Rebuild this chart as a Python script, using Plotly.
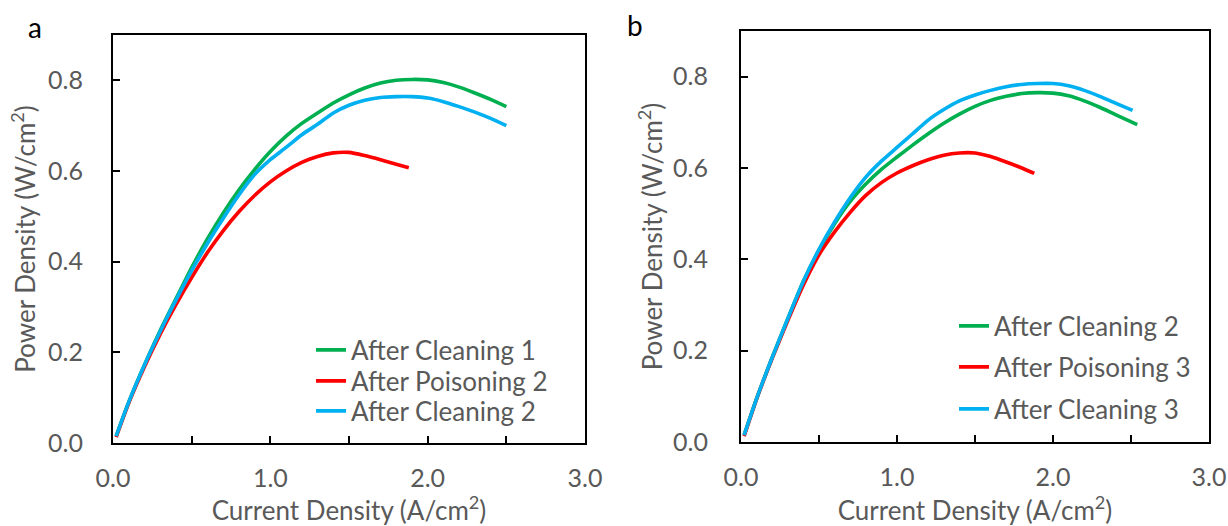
import plotly.graph_objects as go

# ---------------- data ----------------
# Panel a
a_x = [0.02, 0.1, 0.2, 0.3, 0.4, 0.5, 0.6, 0.7, 0.8, 0.9, 1.0, 1.1, 1.2, 1.3, 1.4,
       1.5, 1.6, 1.7, 1.8, 1.9, 2.0, 2.1, 2.2, 2.3, 2.4, 2.5]
a_clean1 = [0.015, 0.09, 0.172, 0.248, 0.318, 0.387, 0.45, 0.507, 0.558, 0.603, 0.643,
            0.677, 0.705, 0.728, 0.75, 0.768, 0.783, 0.794, 0.80, 0.802, 0.801, 0.795,
            0.785, 0.772, 0.758, 0.742]
a_clean2 = [0.015, 0.09, 0.172, 0.246, 0.315, 0.38, 0.44, 0.495, 0.547, 0.592, 0.625,
            0.652, 0.68, 0.703, 0.728, 0.745, 0.756, 0.762, 0.764, 0.764, 0.761, 0.753,
            0.742, 0.73, 0.716, 0.70]
a_pois_x = [0.02, 0.1, 0.2, 0.3, 0.4, 0.5, 0.6, 0.7, 0.8, 0.9, 1.0, 1.1, 1.2, 1.3, 1.4,
            1.5, 1.6, 1.7, 1.8, 1.88]
a_pois2 = [0.013, 0.088, 0.168, 0.24, 0.305, 0.365, 0.42, 0.468, 0.51, 0.546, 0.576,
           0.6, 0.619, 0.632, 0.64, 0.641, 0.634, 0.625, 0.615, 0.607]

# Panel b
b_x = [0.02, 0.1, 0.2, 0.3, 0.4, 0.5, 0.6, 0.7, 0.8, 0.9, 1.0, 1.1, 1.2, 1.3, 1.4,
       1.5, 1.6, 1.7, 1.8, 1.9, 2.0, 2.1, 2.2, 2.3, 2.4, 2.54]
b_clean2 = [0.015, 0.095, 0.185, 0.27, 0.352, 0.42, 0.478, 0.527, 0.565, 0.597, 0.624,
            0.65, 0.675, 0.698, 0.718, 0.735, 0.748, 0.757, 0.763, 0.765, 0.764, 0.758,
            0.747, 0.733, 0.717, 0.695]
b_pois_x = [0.02, 0.1, 0.2, 0.3, 0.4, 0.5, 0.6, 0.7, 0.8, 0.9, 1.0, 1.1, 1.2, 1.3, 1.4,
            1.5, 1.6, 1.7, 1.8, 1.88]
b_pois3 = [0.013, 0.094, 0.183, 0.266, 0.344, 0.41, 0.46, 0.503, 0.54, 0.568, 0.589,
           0.605, 0.618, 0.628, 0.633, 0.633, 0.625, 0.613, 0.60, 0.588]
b_clean_x = [0.02, 0.1, 0.2, 0.3, 0.4, 0.5, 0.6, 0.7, 0.8, 0.9, 1.0, 1.1, 1.2, 1.3, 1.4,
             1.5, 1.6, 1.7, 1.8, 1.9, 2.0, 2.1, 2.2, 2.3, 2.4, 2.51]
b_clean3 = [0.015, 0.095, 0.185, 0.27, 0.352, 0.422, 0.482, 0.535, 0.58, 0.615, 0.645,
            0.675, 0.705, 0.728, 0.747, 0.76, 0.77, 0.778, 0.783, 0.785, 0.785, 0.78,
            0.77, 0.757, 0.742, 0.726]

GREEN = "#00B050"
RED = "#FF0000"
BLUE = "#00B0F0"
GRAY = "#595959"
FONT = "Lato"
LW = 3.6
W, H = 1228, 526

fig = go.Figure()

def add(x, y, name, color, xa, ya, leg):
    fig.add_trace(go.Scatter(x=x, y=y, name=name, mode="lines", showlegend=True,
                             line=dict(color=color, width=LW, shape="spline", smoothing=0.6),
                             xaxis=xa, yaxis=ya, legend=leg))

add(a_x, a_clean1, "After Cleaning 1", GREEN, "x", "y", "legend")
add(a_pois_x, a_pois2, "After Poisoning 2", RED, "x", "y", "legend2")
add(a_x, a_clean2, "After Cleaning 2", BLUE, "x", "y", "legend3")
add(b_x, b_clean2, "After Cleaning 2", GREEN, "x2", "y2", "legend4")
add(b_pois_x, b_pois3, "After Poisoning 3", RED, "x2", "y2", "legend5")
add(b_clean_x, b_clean3, "After Cleaning 3", BLUE, "x2", "y2", "legend6")

def xax(domain, anchor):
    return dict(domain=domain, anchor=anchor, range=[0, 3.0], dtick=1.0, tick0=0,
                tickformat=".1f", showline=True, linecolor="black", linewidth=2,
                mirror=True, ticks="inside", ticklen=7, tickwidth=1.5, tickcolor="black",
                minor=dict(dtick=0.5, ticks="inside", ticklen=7, tickwidth=1.5,
                           tickcolor="black"),
                showgrid=False, zeroline=False, automargin=False,
                tickfont=dict(family=FONT, size=25, color=GRAY),
                ticklabelstandoff=12,
                title=dict(text="Current Density (A/cm<sup>2</sup>)",
                           font=dict(family=FONT, size=26, color=GRAY), standoff=10))

def yax(domain, anchor, standoff, lstand):
    return dict(domain=domain, anchor=anchor, range=[0, 0.9], dtick=0.2, tick0=0,
                tickformat=".1f", showline=True, linecolor="black", linewidth=2,
                mirror=True, ticks="inside", ticklen=7, tickwidth=1.5, tickcolor="black",
                showgrid=False, zeroline=False, automargin=False,
                tickfont=dict(family=FONT, size=25, color=GRAY),
                ticklabelstandoff=lstand,
                title=dict(text="Power Density (W/cm<sup>2</sup>)",
                           font=dict(family=FONT, size=26, color=GRAY), standoff=standoff))

def leg(xpx, ypx):
    return dict(x=xpx / W, y=1 - ypx / H, xanchor="left", yanchor="middle",
                bgcolor="rgba(0,0,0,0)", borderwidth=0, visible=True,
                font=dict(family=FONT, size=26, color=GRAY))

fig.update_layout(
    width=W, height=H,
    showlegend=True,
    margin=dict(l=0, r=0, t=0, b=0, autoexpand=False),
    paper_bgcolor="white", plot_bgcolor="white",
    xaxis=xax([113 / W, 585 / W], "y"),
    yaxis=yax([1 - 443 / H, 1 - 35 / H], "x", 5, 23),
    xaxis2=xax([741 / W, 1209 / W], "y2"),
    yaxis2=yax([1 - 442 / H, 1 - 31 / H], "x2", 3, 26),
    legend=leg(311, 350),
    legend2=leg(311, 381),
    legend3=leg(311, 411),
    legend4=leg(954, 326),
    legend5=leg(954, 367),
    legend6=leg(954, 409),
    annotations=[
        dict(text="a", x=35 / W, y=1 - 27 / H, xref="paper", yref="paper",
             xanchor="center", yanchor="middle",
             showarrow=False, font=dict(family=FONT, size=28, color="black")),
        dict(text="b", x=635 / W, y=1 - 25 / H, xref="paper", yref="paper",
             xanchor="center", yanchor="middle",
             showarrow=False, font=dict(family=FONT, size=28, color="black")),
    ],
)

fig.write_html("out.html")
